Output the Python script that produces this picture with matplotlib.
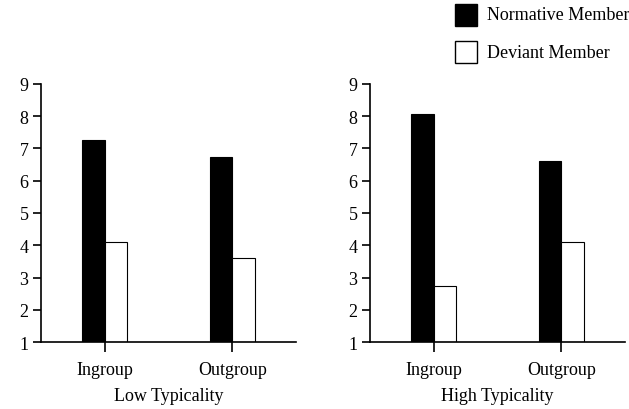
import matplotlib.pyplot as plt
import numpy as np
from matplotlib.patches import Rectangle

plt.rcParams['font.family'] = ['Liberation Serif', 'DejaVu Serif']

# Data
categories = ["Ingroup", "Outgroup"]
panels = ["Low Typicality", "High Typicality"]
series = ["Normative Member", "Deviant Member"]
normative = [[7.27, 6.75], [8.08, 6.62]]
deviant = [[4.09, 3.60], [2.73, 4.09]]
yticks = [1, 2, 3, 4, 5, 6, 7, 8, 9]

W, H = 629, 410
fig = plt.figure(figsize=(W / 100, H / 100), dpi=100)
ax_pos = [[0.0652, 0.1634, 0.4054, 0.6293], [0.5882, 0.1634, 0.4054, 0.6293]]

x = np.arange(len(categories))
w = 0.175
for i, title in enumerate(panels):
    ax = fig.add_axes(ax_pos[i])
    ax.bar(x - w / 2, np.array(normative[i]) - 1, w, bottom=1,
           color="black", edgecolor="black", linewidth=0.8)
    ax.bar(x + w / 2, np.array(deviant[i]) - 1, w, bottom=1,
           color="white", edgecolor="black", linewidth=0.8)
    ax.set_xlim(-0.5, 1.5)
    ax.set_ylim(1, 9)
    ax.set_yticks(yticks)
    ax.set_xticks(x)
    ax.set_xticklabels(categories)
    ax.spines["top"].set_visible(False)
    ax.spines["right"].set_visible(False)
    ax.spines["left"].set_linewidth(1.2)
    ax.spines["bottom"].set_linewidth(1.2)
    ax.tick_params(axis="y", length=6, width=1.2, labelsize=13, pad=3)
    ax.tick_params(axis="x", length=7, width=1.2, labelsize=13, pad=7)
    ax.set_xlabel(title, fontsize=13, labelpad=6)

# legend drawn by hand: filled and empty squares with labels
colors = ["black", "white"]
tops = [5, 42]
for name, c, top in zip(series, colors, tops):
    fig.patches.append(Rectangle((455 / W, 1 - (top + 22) / H), 22 / W, 22 / H,
                                 transform=fig.transFigure, facecolor=c,
                                 edgecolor="black", linewidth=1.0))
    fig.text(487 / W, 1 - (top + 11) / H, name, fontsize=13, va="center", ha="left")

fig.savefig("out.png", dpi=100)
